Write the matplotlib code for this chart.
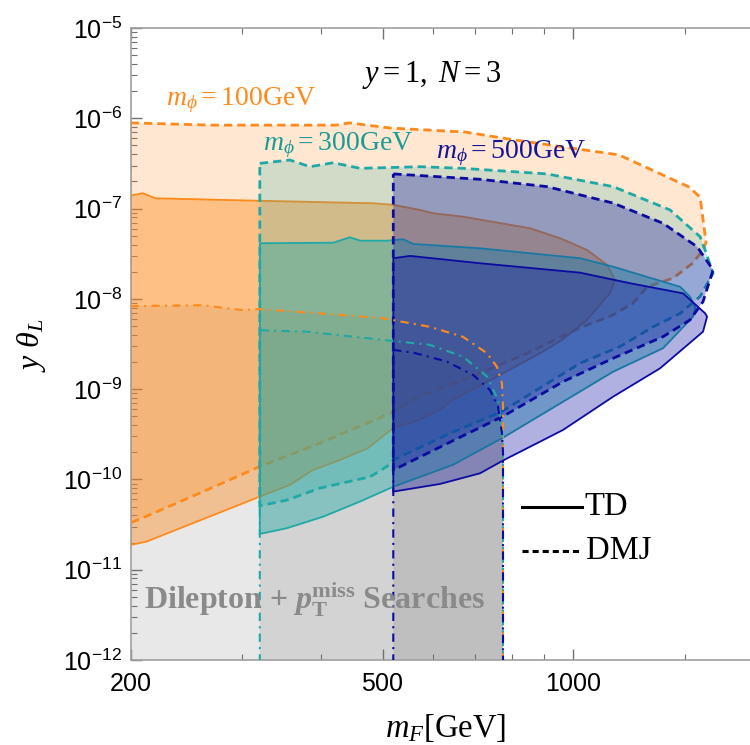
import matplotlib
matplotlib.use("Agg")
import matplotlib.pyplot as plt
from matplotlib.colors import to_rgba
from matplotlib.lines import Line2D
from matplotlib.ticker import NullFormatter

# =========================================================
# Fontes (serif estilo Mathematica, ticks em sans)
# =========================================================
plt.rcParams["mathtext.fontset"] = "custom"
plt.rcParams["mathtext.rm"] = "Liberation Serif"
plt.rcParams["mathtext.it"] = "Liberation Serif:italic"
plt.rcParams["mathtext.bf"] = "Liberation Serif:bold"
plt.rcParams["mathtext.bfit"] = "Liberation Serif:italic:bold"
plt.rcParams["mathtext.sf"] = "Liberation Sans"
plt.rcParams["font.family"] = ["Liberation Serif", "DejaVu Serif"]

# =========================================================
# Dados (m_F em GeV, y*theta_L)
# =========================================================
# m_phi = 100 GeV
dmj100_top_x = [200, 269, 422, 443, 514, 675, 809, 1182, 1525, 1587, 1622]
dmj100_top_y = [8.9e-7, 8.4e-7, 8.4e-7, 8.9e-7, 7.8e-7, 7.05e-7, 5.75e-7, 3.93e-7, 1.73e-7, 1.34e-7, 4.2e-8]
dmj100_bot_x = [1604, 1547, 1439, 1309, 1244, 1150, 1026, 846, 713, 573, 514, 473, 398, 320, 260, 217, 200]
dmj100_bot_y = [3.5e-8, 2.5e-8, 1.7e-8, 1.36e-8, 9.0e-9, 6.5e-9, 4.8e-9, 2.5e-9, 1.5e-9, 8.3e-10, 5.4e-10,
                4.2e-10, 2.52e-10, 1.39e-10, 7.3e-11, 4.2e-11, 3.3e-11]
td100_top_x = [200, 209, 219, 320, 483, 520, 573, 601, 670, 855, 954, 1052, 1132, 1165]
td100_top_y = [1.39e-7, 1.48e-7, 1.30e-7, 1.22e-7, 1.145e-7, 1.10e-7, 9.65e-8, 8.87e-8, 8.13e-8, 6.05e-8,
               4.69e-8, 3.48e-8, 2.37e-8, 1.62e-8]
td100_bot_x = [1144, 1052, 960, 887, 767, 695, 646, 616, 573, 520, 473, 428, 388, 357, 320, 212, 200]
td100_bot_y = [1.16e-8, 5.84e-9, 3.5e-9, 2.5e-9, 1.44e-9, 1.0e-9, 7.6e-10, 5.9e-10, 4.6e-10, 3.7e-10,
               2.2e-10, 1.64e-10, 1.27e-10, 8.7e-11, 6.45e-11, 2.05e-11, 1.88e-11]
dil100_x = [200, 260, 301, 320, 398, 501, 594, 670, 731, 758, 772, 775]
dil100_y = [8.3e-9, 8.5e-9, 7.5e-9, 7.7e-9, 6.9e-9, 6.1e-9, 4.9e-9, 3.8e-9, 2.5e-9, 1.77e-9, 1.16e-9, 6.4e-10]

# m_phi = 300 GeV
dmj300_top_x = [320, 357, 384, 418, 461, 573, 670, 910, 1157, 1423, 1587, 1616, 1664]
dmj300_top_y = [3.17e-7, 3.45e-7, 2.91e-7, 3.22e-7, 2.79e-7, 2.91e-7, 2.79e-7, 2.42e-7, 1.75e-7, 9.65e-8,
                4.88e-8, 3.48e-8, 1.92e-8]
dmj300_bot_x = [1587, 1476, 1338, 1186, 1026, 770, 640, 520, 508, 478, 398, 353, 320]
dmj300_bot_y = [1.06e-8, 6.9e-9, 4.9e-9, 2.96e-9, 1.94e-9, 5.6e-10, 3.25e-10, 1.64e-10, 1.39e-10, 1.07e-10,
                8.0e-11, 5.9e-11, 5.1e-11]
td300_top_x = [320, 418, 444, 461, 508, 539, 559, 713, 1026, 1157, 1476, 1530, 1560]
td300_top_y = [4.13e-8, 4.19e-8, 4.81e-8, 4.41e-8, 4.41e-8, 4.57e-8, 4.06e-8, 3.63e-8, 2.82e-8, 2.27e-8,
               1.36e-8, 1.06e-8, 8.0e-9]
td300_bot_x = [1547, 1387, 1157, 775, 646, 520, 461, 403, 353, 320]
td300_bot_y = [6.35e-9, 2.84e-9, 1.56e-9, 2.9e-10, 1.45e-10, 8.3e-11, 5.7e-11, 3.87e-11, 2.88e-11, 2.49e-11]
dil300_x = [320, 380, 501, 594, 670, 731, 761, 772, 775]
dil300_y = [4.5e-9, 4.33e-9, 3.51e-9, 3.09e-9, 2.29e-9, 1.38e-9, 7.6e-10, 3.25e-10, 2.0e-10]

# m_phi = 500 GeV
dmj500_top_x = [520, 713, 910, 1157, 1387, 1570, 1664]
dmj500_top_y = [2.42e-7, 2.11e-7, 1.75e-7, 1.15e-7, 6.87e-8, 3.78e-8, 2.09e-8]
dmj500_bot_x = [1604, 1530, 1387, 1157, 964, 775, 640, 520]
dmj500_bot_y = [9.3e-9, 5.84e-9, 3.81e-9, 2.2e-9, 1.21e-9, 5.0e-10, 2.6e-10, 1.27e-10]
td500_top_x = [520, 553, 713, 1026, 1230, 1492, 1616, 1628]
td500_top_y = [2.82e-8, 2.99e-8, 2.48e-8, 1.95e-8, 1.49e-8, 1.15e-8, 6.93e-9, 6.35e-9]
td500_bot_x = [1604, 1372, 1157, 964, 775, 713, 616, 520]
td500_bot_y = [4.33e-9, 1.70e-9, 8.26e-10, 3.53e-10, 1.62e-10, 1.17e-10, 8.9e-11, 7.33e-11]
dil500_x = [520, 559, 632, 695, 739, 761, 772, 775]
dil500_y = [2.72e-9, 2.54e-9, 2.02e-9, 1.44e-9, 9.8e-10, 6.4e-10, 3.25e-10, 2.0e-10]

mphi_labels = ["100", "300", "500"]
x_major = [200, 500, 1000, 2000]
x_major_labels = ["200", "500", "1000", "2000"]
x_minor = [300, 400, 600, 700, 800, 900, 1500]
y_decades = [-12, -11, -10, -9, -8, -7, -6, -5]

COR100 = "#ff8a1c"
COR300 = "#1fa9a6"
COR500 = "#0b0ba2"
Y_MIN, Y_MAX = 1e-12, 1e-5
X_MIN, X_MAX = 200, 1903


def px(x):
    return x / 750


def py(y):
    return 1 - y / 745


# =========================================================
# Figura
# =========================================================
fig = plt.figure(figsize=(7.5, 7.45), dpi=100)
ax = fig.add_axes([0.1741, 0.1141, 0.8259, 0.8483])
ax.set_xscale("log")
ax.set_yscale("log")
ax.set_xlim(X_MIN, X_MAX)
ax.set_ylim(Y_MIN, Y_MAX)

DASH = (0, (3, 1.8))
DASHDOT = (0, (4, 2.5, 1, 2.5))


def regiao(xt, yt, xb, yb, cor, alpha, estilo, lw, z):
    ax.fill(list(xt) + list(xb), list(yt) + list(yb),
            facecolor=to_rgba(cor, alpha), edgecolor=cor,
            linestyle=estilo, linewidth=lw, zorder=z)


# --- exclusao dilepton + MET: fundo cinza ---
dileptons = [(dil100_x, dil100_y, COR100), (dil300_x, dil300_y, COR300), (dil500_x, dil500_y, COR500)]
for dx, dy, cor in dileptons:
    gx = list(dx) + [dx[-1], dx[0]]
    gy = list(dy) + [Y_MIN / 10, Y_MIN / 10]
    ax.fill(gx, gy, facecolor=(0, 0, 0, 0.09), edgecolor="none", zorder=1.5)

# --- regioes DMJ (tracejado) e TD (solido), em ordem de m_phi ---
regiao(dmj100_top_x, dmj100_top_y, dmj100_bot_x, dmj100_bot_y, COR100, 0.2, DASH, 2.0, 2.0)
regiao(td100_top_x, td100_top_y, td100_bot_x, td100_bot_y, COR100, 0.42, "-", 1.3, 2.1)
regiao(dmj300_top_x, dmj300_top_y, dmj300_bot_x, dmj300_bot_y, COR300, 0.2, DASH, 2.0, 2.2)
regiao(td300_top_x, td300_top_y, td300_bot_x, td300_bot_y, COR300, 0.42, "-", 1.3, 2.3)
regiao(dmj500_top_x, dmj500_top_y, dmj500_bot_x, dmj500_bot_y, COR500, 0.3, DASH, 2.0, 2.4)
regiao(td500_top_x, td500_top_y, td500_bot_x, td500_bot_y, COR500, 0.32, "-", 1.3, 2.5)

# --- contornos ponto-traco do dilepton ---
for dx, dy, cor in dileptons:
    lx = list(dx) + [dx[-1]]
    ly = list(dy) + [Y_MIN / 10]
    if dx[0] > X_MIN:
        lx = [dx[0]] + lx
        ly = [Y_MIN / 10] + ly
    ax.plot(lx, ly, color=cor, lw=1.5, linestyle=DASHDOT, zorder=4)

# =========================================================
# Eixos
# =========================================================
ax.set_xticks(x_major)
ax.set_xticklabels([r"$\mathsf{%s}$" % s for s in x_major_labels])
ax.set_xticks(x_minor, minor=True)
ax.xaxis.set_minor_formatter(NullFormatter())
ax.set_yticks([10.0 ** d for d in y_decades])
ax.set_yticklabels([r"$\mathsf{10^{%d}}$" % d for d in y_decades])
ax.set_yticks([m * 10.0 ** d for d in y_decades[:-1] for m in range(2, 10)], minor=True)
ax.yaxis.set_minor_formatter(NullFormatter())
ax.set_xlim(X_MIN, X_MAX)
ax.set_ylim(Y_MIN, Y_MAX)

ax.tick_params(which="both", direction="in", top=True, right=False, color="#707070", labelsize=18)
ax.tick_params(which="major", length=8, width=1.0, pad=6)
ax.tick_params(axis="x", which="major", pad=10)
ax.tick_params(which="minor", length=4, width=0.8)
for lado in ["left", "bottom", "top"]:
    ax.spines[lado].set_color("#a0a0a0")
    ax.spines[lado].set_linewidth(1.2)
ax.spines["right"].set_visible(False)

fig.text(px(446), py(728), r"$m_F$[GeV]", fontsize=23.5, ha="center", va="center")
fig.text(px(31), py(345), r"$y\ \theta_L$", fontsize=23, ha="center", va="center", rotation=90)

# =========================================================
# Textos
# =========================================================
fig.text(px(432), py(75), r"$y=1,\ N=3$", fontsize=22, ha="center", va="center")
fig.text(px(241), py(100), r"$m_\phi=%s\mathrm{GeV}$" % mphi_labels[0], fontsize=20,
         color=COR100, ha="center", va="center")
fig.text(px(338), py(145), r"$m_\phi=%s\mathrm{GeV}$" % mphi_labels[1], fontsize=20,
         color="#1a9c96", ha="center", va="center")
fig.text(px(511), py(153), r"$m_\phi=%s\mathrm{GeV}$" % mphi_labels[2], fontsize=20,
         color="#14149a", ha="center", va="center")
fig.text(px(315), py(600), r"Dilepton + $\mathbfit{p}_\mathbf{T}^\mathbf{miss}$ Searches",
         fontsize=23, fontweight="bold", color="#8a8a8a", ha="center", va="center", zorder=6)

# legenda
fig.add_artist(Line2D([px(522), px(582)], [py(507), py(507)], color="black", lw=2.2))
fig.add_artist(Line2D([px(522), px(581)], [py(551), py(551)], color="black", lw=2.2, linestyle=(0, (2, 1.3))))
fig.text(px(584), py(507), "TD", fontsize=23.5, ha="left", va="center")
fig.text(px(586), py(551), "DMJ", fontsize=23.5, ha="left", va="center")

fig.savefig("out.png", dpi=100)
plt.close(fig)
